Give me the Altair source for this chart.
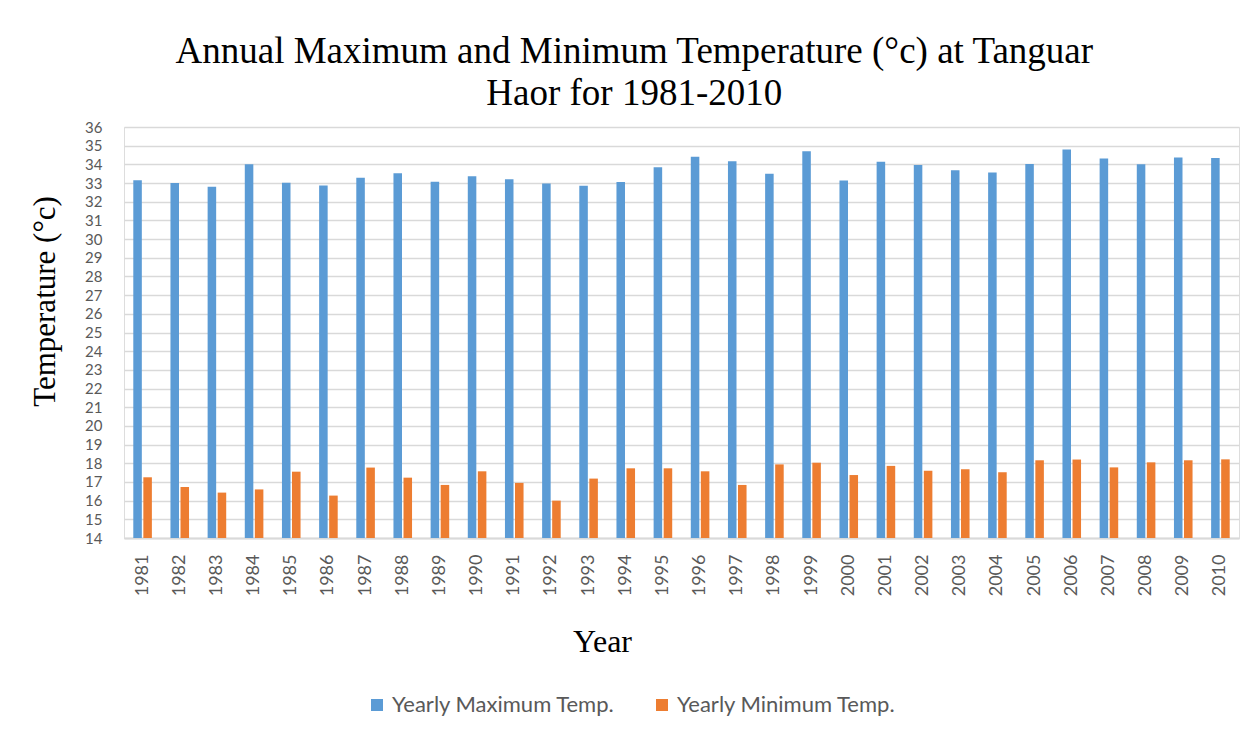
import altair as alt
import pandas as pd

years = [str(y) for y in range(1981, 2011)]
max_temp = [33.15, 33.0, 32.8, 34.0, 33.02, 32.87, 33.29, 33.53, 33.07, 33.36,
            33.2, 32.98, 32.86, 33.05, 33.84, 34.41, 34.16, 33.5, 34.7, 33.14,
            34.14, 33.97, 33.68, 33.57, 34.02, 34.8, 34.32, 34.0, 34.37, 34.34]
min_temp = [17.25, 16.73, 16.43, 16.6, 17.55, 16.27, 17.77, 17.23, 16.84, 17.57,
            16.95, 16.0, 17.18, 17.73, 17.73, 17.57, 16.84, 17.94, 18.03, 17.37,
            17.86, 17.6, 17.68, 17.52, 18.16, 18.2, 17.78, 18.05, 18.16, 18.21]
series = ["Yearly Maximum Temp.", "Yearly Minimum Temp."]
colors = ["#5b9bd5", "#ed7d31"]
y_ticks = list(range(14, 37))

rows = []
for i, yr in enumerate(years):
    rows.append({"Year": yr, "Series": series[0], "Temp": max_temp[i]})
    rows.append({"Year": yr, "Series": series[1], "Temp": min_temp[i]})
df = pd.DataFrame(rows)

label_font = "Lato"
serif = "Liberation Serif"

chart = alt.Chart(df).mark_bar(stroke=None).encode(
    x=alt.X("Year:N", sort=years,
            scale=alt.Scale(paddingInner=0.5, paddingOuter=0.25),
            axis=alt.Axis(title="Year", labelAngle=-90, labelFont=label_font,
                          labelFontSize=18, labelColor="#595959", labelPadding=16,
                          titleFont=serif, titleFontSize=32, titleFontWeight="normal",
                          titleColor="black", titlePadding=31, titleX=478,
                          ticks=False, domainColor="#d9d9d9", domainWidth=2, grid=False)),
    xOffset=alt.XOffset("Series:N", sort=series,
                        scale=alt.Scale(paddingInner=0.15)),
    y=alt.Y("Temp:Q",
            scale=alt.Scale(domain=[14, 36], zero=False, nice=False),
            axis=alt.Axis(title="Temperature (°c)", values=y_ticks, labelFont=label_font,
                          labelFontSize=15, labelColor="#595959", labelPadding=22,
                          labelOverlap=False,
                          titleFont=serif, titleFontSize=31, titleFontWeight="normal",
                          titleColor="black", titlePadding=23, titleY=174,
                          ticks=False, domain=False,
                          gridColor="#d9d9d9", gridWidth=1.5)),
    y2=alt.datum(14),
    color=alt.Color("Series:N", sort=series,
                    scale=alt.Scale(domain=series, range=colors),
                    legend=alt.Legend(title=None, orient="none", direction="horizontal",
                                      legendX=242, legendY=567,
                                      symbolType="square", symbolSize=144,
                                      symbolStrokeWidth=0, labelFont=label_font,
                                      labelFontSize=22, labelColor="#595959",
                                      labelLimit=0, labelOffset=4,
                                      columnPadding=36)),
).properties(
    width=1115,
    height=411,
    padding={"left": 21, "top": 25, "right": 5, "bottom": 5},
    title=alt.TitleParams(
        ["Annual Maximum and Minimum Temperature (°c) at Tanguar", "Haor for 1981-2010"],
        font=serif, fontSize=37, fontWeight="normal", color="black",
        lineHeight=42, anchor="middle", frame="bounds", offset=7),
).configure_view(stroke=None).configure(background="white")

chart.save("out.html", embed_options={"renderer": "svg", "actions": False})
